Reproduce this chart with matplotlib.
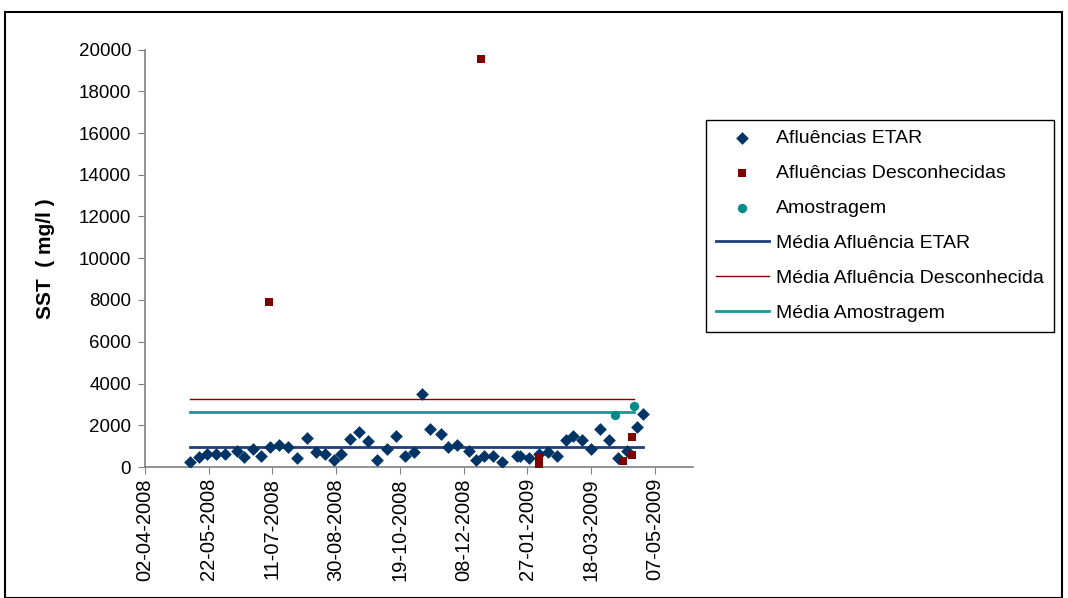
import matplotlib
matplotlib.use("Agg")
import matplotlib.pyplot as plt
import matplotlib.dates as mdates
import numpy as np
from matplotlib.patches import Rectangle

plt.rcParams["font.family"] = ["Liberation Sans", "DejaVu Sans"]

# Afluências ETAR
etar_dates = [
    "2008-05-07", "2008-05-14", "2008-05-21", "2008-05-28", "2008-06-04", "2008-06-13",
    "2008-06-19", "2008-06-26", "2008-07-02", "2008-07-09", "2008-07-16", "2008-07-23",
    "2008-07-30", "2008-08-07", "2008-08-14", "2008-08-21", "2008-08-28", "2008-09-03",
    "2008-09-10", "2008-09-17", "2008-09-24", "2008-10-01", "2008-10-09", "2008-10-16",
    "2008-10-23", "2008-10-30", "2008-11-05", "2008-11-12", "2008-11-20", "2008-11-26",
    "2008-12-03", "2008-12-12", "2008-12-18", "2008-12-24", "2008-12-31", "2009-01-07",
    "2009-01-19", "2009-01-21", "2009-01-28", "2009-02-05", "2009-02-12", "2009-02-19",
    "2009-02-26", "2009-03-04", "2009-03-11", "2009-03-18", "2009-03-25", "2009-04-01",
    "2009-04-08", "2009-04-15", "2009-04-23", "2009-04-28",
]
etar_sst = [
    250, 490, 620, 620, 620, 780,
    490, 880, 510, 970, 1040, 970,
    430, 1390, 700, 610, 340, 620,
    1330, 1660, 1230, 340, 880, 1500,
    510, 720, 3500, 1830, 1580, 960,
    1050, 770, 340, 530, 530, 250,
    530, 530, 420, 620, 700, 510,
    1310, 1500, 1310, 860, 1830, 1310,
    430, 780, 1920, 2540,
]

# Afluências Desconhecidas
desc_dates = [
    "2008-07-08", "2008-12-22", "2009-02-05", "2009-02-05", "2009-02-05",
    "2009-04-12", "2009-04-19", "2009-04-19",
]
desc_sst = [7900, 19550, 100, 300, 500, 300, 560, 1440]

# Amostragem
amos_dates = ["2009-04-06", "2009-04-21"]
amos_sst = [2490, 2940]

# Médias (horizontal lines)
mean_etar = 960
mean_desc = 3240
mean_amos = 2620
mean_start = "2008-05-07"
mean_etar_end = "2009-04-28"
mean_other_end = "2009-04-21"

x_start = "2008-04-02"
x_end = "2009-06-06"

W, H = 1068, 598
fig = plt.figure(figsize=(W / 100, H / 100), dpi=100)

# chart-area border
fig.patches.append(Rectangle((5 / W, 0.0), 1057 / W, (H - 12) / H, transform=fig.transFigure,
                             fill=False, edgecolor="black", linewidth=1.5))

ax = fig.add_axes([145 / W, (H - 467) / H, 548 / W, 417.5 / H])

d = lambda s: np.array(s, dtype="datetime64[D]")

ax.scatter(d(etar_dates), etar_sst, marker="D", s=42, color="#003366", linewidths=0, zorder=3,
           label="Afluências ETAR")
ax.scatter(d(desc_dates), desc_sst, marker="s", s=40, color="#800000", linewidths=0, zorder=4,
           label="Afluências Desconhecidas")
ax.scatter(d(amos_dates), amos_sst, marker="o", s=45, color="#008B8B", linewidths=0, zorder=4,
           label="Amostragem")

ax.plot(d([mean_start, mean_etar_end]), [mean_etar, mean_etar], color="#1F3F7A", lw=2,
        label="Média Afluência ETAR")
ax.plot(d([mean_start, mean_other_end]), [mean_desc, mean_desc], color="#800000", lw=1,
        label="Média Afluência Desconhecida")
ax.plot(d([mean_start, mean_other_end]), [mean_amos, mean_amos], color="#159A9A", lw=2,
        label="Média Amostragem")

ax.set_xlim(d(x_start), d(x_end))
ax.set_ylim(0, 20000)
ax.set_yticks(np.arange(0, 20001, 2000))
ticks = np.arange(d(x_start), d(x_end), np.timedelta64(50, "D"))
ax.set_xticks(ticks)
ax.xaxis.set_major_formatter(mdates.DateFormatter("%d-%m-%Y"))
ax.tick_params(axis="x", rotation=90, labelsize=14.5, length=5, color="#808080", pad=3)
ax.tick_params(axis="y", labelsize=13.5, length=5, color="#808080", pad=5)

for side in ("top", "right"):
    ax.spines[side].set_visible(False)
for side in ("left", "bottom"):
    ax.spines[side].set_color("#808080")
    ax.spines[side].set_linewidth(1.2)

ax.set_ylabel("SST  ( mg/l )", fontsize=15, fontweight="bold")
ax.yaxis.set_label_coords(-0.165, 0.5)

leg = fig.legend(loc="upper left", bbox_to_anchor=(706 / W, 1 - 120 / H), fontsize=14,
                 frameon=True, fancybox=False, edgecolor="black", framealpha=1,
                 handlelength=2.75, handletextpad=0.35, labelspacing=0.89, borderpad=0.5,
                 borderaxespad=0)
leg.get_frame().set_linewidth(1.0)

fig.savefig("out.png", dpi=100)
